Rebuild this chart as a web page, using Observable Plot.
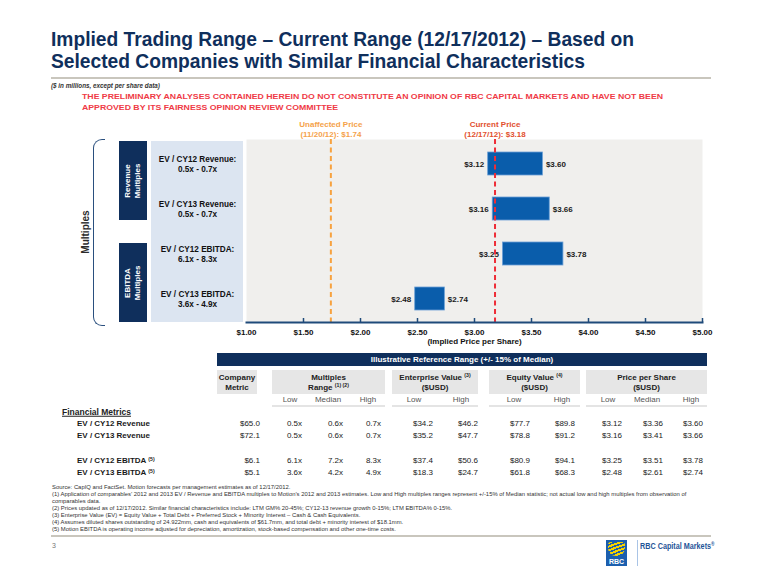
<!DOCTYPE html>
<html><head><meta charset="utf-8">
<script src="https://cdn.jsdelivr.net/npm/d3@7"></script>
<script src="https://cdn.jsdelivr.net/npm/@observablehq/plot@0.6"></script>
<style>
html,body{margin:0;padding:0;background:#fff;}
#page{position:relative;width:760px;height:587px;overflow:hidden;font-family:"Liberation Sans",Arial,sans-serif;color:#1a1a1a;}
.t{position:absolute;white-space:nowrap;line-height:1;}
.box{position:absolute;}
sup{font-size:65%;vertical-align:0;position:relative;top:-0.45em;}
</style></head><body><div id="page"></div>
<script>
// ---------- data ----------
const metricNames = ["EV / CY12 Revenue", "EV / CY13 Revenue", "EV / CY12 EBITDA", "EV / CY13 EBITDA"];
const metricNotes = ["", "", "(5)", "(5)"];
const companyMetric = [65.0, 72.1, 6.1, 5.1];
const multLow = [0.5, 0.5, 6.1, 3.6];
const multMedian = [0.6, 0.6, 7.2, 4.2];
const multHigh = [0.7, 0.7, 8.3, 4.9];
const evLow = [34.2, 35.2, 37.4, 18.3];
const evHigh = [46.2, 47.7, 50.6, 24.7];
const eqLow = [77.7, 78.8, 80.9, 61.8];
const eqHigh = [89.8, 91.2, 94.1, 68.3];
const ppsLow = [3.12, 3.16, 3.25, 2.48];
const ppsMedian = [3.36, 3.41, 3.51, 2.61];
const ppsHigh = [3.60, 3.66, 3.78, 2.74];
const refLabels = ["Unaffected Price", "Current Price"];
const refDates = ["11/20/12", "12/17/12"];
const refPrices = [1.74, 3.18];
const xTicks = [1, 1.5, 2, 2.5, 3, 3.5, 4, 4.5, 5];
const groupLabels = ["Revenue\nMultiples", "EBITDA\nMultiples"];
const titleLines = ["Implied Trading Range \u2013 Current Range (12/17/2012) \u2013 Based on", "Selected Companies with Similar Financial Characteristics"];
const disclaimer = ["THE PRELIMINARY ANALYSES CONTAINED HEREIN DO NOT CONSTITUTE AN OPINION OF RBC CAPITAL MARKETS AND HAVE NOT BEEN", "APPROVED BY ITS FAIRNESS OPINION REVIEW COMMITTEE"];
const footnotes = [
  "Source: CapIQ and FactSet. Motion forecasts per management estimates as of 12/17/2012.",
  "(1) Application of comparables\u2019 2012 and 2013 EV / Revenue and EBITDA multiples to Motion\u2019s 2012 and 2013 estimates. Low and High multiples ranges represent +/-15% of Median statistic; not actual low and high multiples from observation of",
  "comparables data.",
  "(2) Prices updated as of 12/17/2012. Similar financial characteristics include: LTM GM% 20-45%; CY12-13 revenue growth 0-15%; LTM EBITDA% 0-15%.",
  "(3) Enterprise Value (EV) = Equity Value + Total Debt + Preferred Stock + Minority Interest \u2013 Cash & Cash Equivalents.",
  "(4) Assumes diluted shares outstanding of 24.922mm, cash and equivalents of $61.7mm, and total debt + minority interest of $18.1mm.",
  "(5) Motion EBITDA is operating income adjusted for depreciation, amortization, stock-based compensation and other one-time costs."
];

// ---------- styles ----------
const NAVY = "#0f2f5c";
const BAR = "#0a5dab";
const refColors = ["#f7a23f", "#ee2d37"];
const refTextColors = ["#f5a24a", "#e2502e"];

const page = document.getElementById("page");
function put(html, x, y, o = {}) {
  const d = document.createElement("div");
  d.className = "t";
  d.innerHTML = html;
  const tx = o.align === "right" ? "-100%" : o.align === "center" ? "-50%" : "0";
  d.style.cssText += `left:${x}px;top:${y}px;transform:translate(${tx},-50%);font-size:${o.size || 8}px;font-weight:${o.weight || "normal"};color:${o.color || "#1a1a1a"};${o.css || ""}`;
  page.appendChild(d);
  return d;
}
function box(x, y, w, h, css) {
  const d = document.createElement("div");
  d.className = "box";
  d.style.cssText = `left:${x}px;top:${y}px;width:${w}px;height:${h}px;${css}`;
  page.appendChild(d);
  return d;
}

// ---------- title ----------
const tl = titleLines.map((s, i) => {
  const d = document.createElement("div");
  d.className = "t";
  d.textContent = s;
  d.style.cssText = `left:51px;top:${28 + i * 22}px;font-size:21px;line-height:22px;font-weight:bold;color:${NAVY};transform-origin:0 0;`;
  page.appendChild(d);
  return d;
});
const tScale = 583 / tl[0].getBoundingClientRect().width;
tl.forEach(d => d.style.transform = `scaleX(${tScale})`);
box(51, 77, 660, 2, "background:#c9c6bd;");
put("($ in millions, except per share data)", 51, 85.5, {size: 6.3, weight: "bold", color: "#333", css: "font-style:italic;"});
const dl = disclaimer.map((s, i) => put(s, 82, 97 + i * 10.5, {size: 8, weight: "bold", color: "#ef3a46", css: "transform-origin:0 50%;"}));
const dScale = 581 / dl[0].getBoundingClientRect().width;
dl.forEach(d => d.style.transform = `translate(0,-50%) scaleX(${dScale})`);

// ---------- chart decorations (left) ----------
box(151, 141, 92, 181, "background:#dce5f1;");
groupLabels.forEach((g, i) => {
  const b = box(119, 141 + i * 102, 28, 79, `background:${NAVY};display:flex;align-items:center;justify-content:center;`);
  const s = document.createElement("div");
  s.style.cssText = "color:#fff;font-size:8px;font-weight:bold;line-height:10px;text-align:center;white-space:pre;transform:rotate(-90deg);";
  s.textContent = g;
  b.appendChild(s);
});
box(93, 139, 12, 187, "border:1.6px solid #2a4f7e;border-right:none;border-radius:9px 0 0 9px;box-sizing:border-box;");
put("Multiples", 86, 232, {align: "center", size: 10, weight: "bold", color: "#2b2b2b", css: "transform:translate(-50%,-50%) rotate(-90deg);"});

// ---------- chart (Observable Plot) ----------
const rows = metricNames.map((m, i) => ({
  key: `${m}:\n${multLow[i].toFixed(1)}x - ${multHigh[i].toFixed(1)}x`,
  low: ppsLow[i], high: ppsHigh[i]
}));
const refs = refLabels.map((l, i) => ({label: l, date: refDates[i], price: refPrices[i], i}));
const FONT = "'Liberation Sans', Arial, sans-serif";
const chart = Plot.plot({
  width: 565, height: 238,
  marginLeft: 96, marginRight: 13, marginTop: 27, marginBottom: 28,
  style: {background: "transparent", fontFamily: FONT, overflow: "visible"},
  x: {domain: [1, 5], label: null},
  y: {type: "band", domain: rows.map(d => d.key), paddingInner: 0.5, paddingOuter: 0.25, label: null},
  marks: [
    Plot.frame({fill: "#f0efed", stroke: "none"}),
    Plot.barX(rows, {x1: "low", x2: "high", y: "key", fill: BAR, stroke: "#6a9fd6", strokeWidth: 0.8}),
    Plot.text(rows, {x: "low", y: "key", text: d => "$" + d.low.toFixed(2), textAnchor: "end", dx: -4, fontWeight: "bold", fontSize: 8, fill: "#1a1a1a"}),
    Plot.text(rows, {x: "high", y: "key", text: d => "$" + d.high.toFixed(2), textAnchor: "start", dx: 3, fontWeight: "bold", fontSize: 8, fill: "#1a1a1a"}),
    ...refs.map(r => Plot.ruleX([r], {x: "price", stroke: refColors[r.i], strokeWidth: 2, strokeDasharray: "5,3.5"})),
    ...refs.map(r => Plot.text([r], {x: "price", frameAnchor: "top", lineAnchor: "bottom", dy: -3, lineHeight: 1.25,
      text: d => `${d.label}\n(${d.date}): $${d.price.toFixed(2)}`, fill: refTextColors[r.i], fontWeight: "bold", fontSize: 8})),
    Plot.axisY({tickSize: 0, tickPadding: 49, textAnchor: "middle", fontWeight: "bold", fontSize: 8.2, lineHeight: 1.22, fill: "#111", label: null}),
    Plot.axisX({ticks: xTicks, tickFormat: d => "$" + d.toFixed(2), tickSize: 0, tickPadding: 7, fontWeight: "bold", fontSize: 8, fill: "#111", label: null}),
    Plot.frame({anchor: "bottom", stroke: "#1f4a7a", strokeWidth: 2}),
    Plot.tickX(xTicks.slice(1), {x: d => d, stroke: "#1f4a7a", strokeWidth: 1.5, insetTop: 179}),
    Plot.text(["(Implied Price per Share)"], {frameAnchor: "bottom", text: d => d, dy: 21, fontWeight: "bold", fontSize: 8, fill: "#111"})
  ]
});
chart.style.position = "absolute";
chart.style.left = "150px";
chart.style.top = "112px";
page.appendChild(chart);

// ---------- table ----------
box(217, 353, 490, 13, `background:${NAVY};`);
put("Illustrative Reference Range (+/- 15% of Median)", 462, 359.5, {align: "center", size: 8, weight: "bold", color: "#fff"});
const groups = [
  {x: 217, w: 40, lines: ["Company", "Metric"], subs: []},
  {x: 272, w: 113, lines: ["Multiples", "Range <sup>(1) (2)</sup>"], subs: [["Low", 290], ["Median", 328], ["High", 368]]},
  {x: 392, w: 86, lines: ["Enterprise Value <sup>(3)</sup>", "($USD)"], subs: [["Low", 414], ["High", 461]]},
  {x: 489, w: 91, lines: ["Equity Value <sup>(4)</sup>", "($USD)"], subs: [["Low", 514], ["High", 562]]},
  {x: 586, w: 121, lines: ["Price per Share", "($USD)"], subs: [["Low", 608], ["Median", 647], ["High", 691]]}
];
groups.forEach(g => {
  box(g.x, 370, g.w, 24, "background:#e6e6e6;");
  g.lines.forEach((l, i) => put(l, g.x + g.w / 2, 377.5 + i * 10, {align: "center", size: 8, weight: "bold", color: "#222"}));
  if (g.subs.length) {
    box(g.x, 405, g.w, 2, "background:#e4e4e4;");
    g.subs.forEach(([s, cx]) => put(s, cx, 399.5, {align: "center", size: 8, color: "#555"}));
  }
});
put("Financial Metrics", 62, 412, {size: 8.5, weight: "bold", color: "#222", css: "text-decoration:underline;text-underline-offset:1px;"});
const rowY = [424, 436, 461, 473];
const fmtD1 = v => "$" + v.toFixed(1);
const fmtX = v => v.toFixed(1) + "x";
const fmtD2 = v => "$" + v.toFixed(2);
const cols = [
  [companyMetric, 260, fmtD1], [multLow, 302, fmtX], [multMedian, 343, fmtX], [multHigh, 381, fmtX],
  [evLow, 433, fmtD1], [evHigh, 478, fmtD1], [eqLow, 530, fmtD1], [eqHigh, 575, fmtD1],
  [ppsLow, 622, fmtD2], [ppsMedian, 663, fmtD2], [ppsHigh, 703, fmtD2]
];
metricNames.forEach((m, i) => {
  put(m + (metricNotes[i] ? ` <sup>${metricNotes[i]}</sup>` : ""), 77, rowY[i], {size: 8, weight: "bold", color: "#1a1a1a"});
  cols.forEach(([arr, rx, f]) => put(f(arr[i]), rx, rowY[i], {align: "right", size: 8, color: "#1a1a1a"}));
});

// ---------- footnotes ----------
const fn = footnotes.map((s, i) => put(s, 52, 488 + i * 7, {size: 10, color: "#333"}));
const fnSize = 10 * 635 / fn[1].getBoundingClientRect().width;
fn.forEach(d => d.style.fontSize = fnSize + "px");
box(51, 535, 660, 1.5, "background:#c9c6bd;");
put("3", 52, 545, {size: 7, color: "#777"});

// ---------- logo ----------
const logo = box(606, 540, 21, 26, "background:#1c5fae;overflow:hidden;");
logo.innerHTML = '<div style="position:absolute;left:2px;top:2px;width:17px;height:14px;border-radius:3px 3px 8px 8px;background:repeating-linear-gradient(160deg,#f6d200 0 2px,#1c5fae 2px 3.5px);"></div><div style="position:absolute;left:0;right:0;bottom:1px;text-align:center;color:#fff;font:bold 7px Liberation Sans,Arial;">RBC</div>';
box(637, 540, 1, 26, "background:#a9c4e6;");
put("RBC Capital Markets<sup>\u00ae</sup>", 640, 545.5, {size: 8.5, weight: "bold", color: "#1f5597", css: "transform-origin:0 50%;transform:translate(0,-50%) scaleX(0.85);"});
</script></body></html>
